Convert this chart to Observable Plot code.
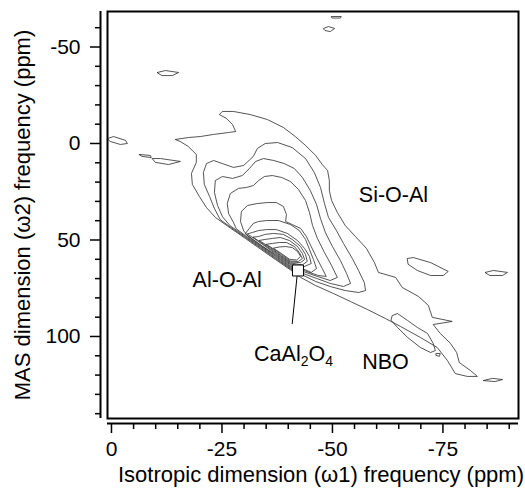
<!DOCTYPE html>
<html>
<head>
<meta charset="utf-8">
<script src="https://cdn.jsdelivr.net/npm/d3@7"></script>
<script src="https://cdn.jsdelivr.net/npm/@observablehq/plot@0.6"></script>
<style>
  html, body { margin: 0; padding: 0; background: #fff; }
  svg { display: block; }
</style>
</head>
<body>
<div id="chart"></div>
<script>
// ---------- axes ----------
const xDomain = [0.9, -92.1];
const yDomain = [142.5, -68.4];
const xMajorTicks = [0, -25, -50, -75];
const xMinorTicks = [-5, -10, -15, -20, -30, -35, -40, -45, -55, -60, -65, -70, -80, -85, -90];
const yMajorTicks = [-50, 0, 50, 100];
const yMinorTicks = [-60, -40, -30, -20, -10, 10, 20, 30, 40, 60, 70, 80, 90, 110, 120, 130, 140];
const xTitle = "Isotropic dimension (\u03c91) frequency (ppm)";
const yTitle = "MAS dimension (\u03c92) frequency (ppm)";

// ---------- contour lines [isotropic ppm, MAS ppm] ----------
const contour1 = [[-14.5,-2.1],[-17.4,-3.1],[-20.1,-3.6],[-23.1,-4.7],[-26.5,-5.7],[-28.1,-6.2],[-27.4,-9.8],[-26.0,-13.0],[-24.4,-15.0],[-25.1,-16.6],[-27.6,-16.6],[-31.4,-15.0],[-35.3,-12.4],[-38.9,-8.3],[-41.6,-3.6],[-43.9,1.0],[-46.2,6.2],[-47.7,10.9],[-48.9,14.0],[-49.3,19.2],[-49.3,24.4],[-49.8,29.5],[-51.1,35.7],[-52.9,42.5],[-55.2,48.2],[-57.7,54.4],[-59.5,61.7],[-60.4,66.8],[-64.3,69.4],[-65.8,74.6],[-69.5,79.3],[-71.7,83.9],[-72.6,90.1],[-77.1,92.2],[-72.8,93.8],[-74.4,98.4],[-76.7,103.6],[-78.1,108.3],[-78.7,113.5],[-81.2,117.6],[-82.8,120.7],[-80.5,120.7],[-77.8,119.2],[-76.0,112.4],[-73.7,105.7],[-69.9,100.5],[-65.4,94.8],[-62.0,90.7],[-57.9,86.0],[-54.1,81.9],[-50.2,77.7],[-46.2,73.6],[-42.8,69.4],[-40.5,65.5],[-37.1,60.1],[-33.7,54.7],[-30.3,49.2],[-26.9,43.8],[-23.5,38.3],[-21.5,33.2],[-19.9,27.5],[-18.3,21.2],[-18.1,15.5],[-19.2,9.8],[-19.2,5.7],[-17.4,1.6],[-15.6,-1.0]];
const contour2 = [[-23.3,33.7],[-22.2,27.5],[-21.0,21.2],[-20.8,15.0],[-21.5,10.4],[-23.1,8.8],[-25.1,10.4],[-27.6,12.4],[-29.9,11.4],[-32.1,6.7],[-33.0,2.6],[-34.8,0.0],[-37.6,-0.5],[-40.9,2.1],[-43.9,7.8],[-45.9,15.0],[-47.3,22.8],[-48.2,31.1],[-49.1,38.3],[-50.9,45.1],[-52.5,51.8],[-54.5,59.6],[-55.9,65.8],[-57.2,72.0],[-57.5,76.2],[-55.9,77.2],[-52.9,76.2],[-49.5,74.1],[-46.2,71.5],[-43.2,68.1],[-40.5,65.0],[-37.1,59.6],[-33.7,54.1],[-30.3,48.7],[-26.9,43.3],[-24.7,39.6]];
const contour3 = [[-25.1,37.8],[-24.0,32.1],[-23.3,25.4],[-23.5,19.2],[-25.1,17.1],[-27.4,18.1],[-29.6,16.6],[-31.2,13.0],[-32.6,9.3],[-34.4,7.8],[-36.7,8.8],[-39.1,10.4],[-41.4,13.0],[-43.2,17.6],[-45.0,24.4],[-46.4,31.6],[-47.3,38.9],[-48.4,46.1],[-50.0,53.4],[-51.8,60.6],[-53.2,67.4],[-54.1,72.5],[-52.5,74.1],[-49.5,72.5],[-46.4,69.9],[-43.4,67.4],[-40.5,64.5],[-37.1,59.1],[-33.7,53.6],[-30.3,48.2],[-26.9,42.7]];
const contour4 = [[-27.6,40.9],[-26.5,36.3],[-26.2,31.1],[-26.9,25.9],[-28.7,23.3],[-30.5,22.8],[-32.1,21.8],[-33.3,19.2],[-34.6,17.1],[-36.4,16.6],[-38.5,17.6],[-40.5,19.7],[-42.3,23.8],[-43.9,29.5],[-44.8,35.7],[-45.5,42.5],[-46.6,49.2],[-48.2,56.5],[-49.8,63.2],[-51.1,69.4],[-49.5,71.0],[-46.6,68.9],[-43.7,66.6],[-40.5,64.0],[-37.1,58.5],[-33.7,53.1],[-30.3,47.7],[-28.3,44.3]];
const contour5 = [[-29.9,45.1],[-29.2,40.4],[-29.4,35.2],[-30.8,32.1],[-33.0,31.1],[-35.3,30.6],[-37.3,30.6],[-38.9,32.6],[-39.6,36.8],[-39.4,40.4],[-40.9,42.0],[-42.8,44.0],[-44.1,48.2],[-45.2,53.4],[-46.4,59.1],[-47.7,64.8],[-48.6,68.9],[-46.8,68.4],[-43.9,66.1],[-40.5,63.5],[-37.1,58.0],[-33.7,52.6],[-31.0,48.2]];
const contour6 = [[-30.3,46.6],[-31.2,44.0],[-32.1,41.4],[-33.3,40.4],[-35.3,39.9],[-37.8,39.9],[-40.5,42.0],[-42.5,45.1],[-43.9,49.7],[-44.8,54.9],[-45.7,60.1],[-46.4,64.8],[-45.2,66.8],[-43.2,64.8],[-40.5,62.9],[-37.1,57.5],[-34.2,53.3],[-31.9,49.5]];
const contour7 = [[-30.8,46.8],[-31.9,46.1],[-33.3,45.1],[-35.1,44.6],[-37.3,44.6],[-39.8,46.6],[-42.1,50.3],[-43.7,54.4],[-44.8,58.5],[-45.2,62.2],[-43.4,64.0],[-40.5,62.4],[-37.1,57.0],[-34.2,52.3],[-32.4,49.4]];
const contour8 = [[-32.1,48.5],[-33.3,48.2],[-34.8,47.1],[-36.7,46.6],[-38.9,47.1],[-40.9,49.7],[-42.8,53.4],[-43.9,57.5],[-44.3,61.1],[-43.2,62.9],[-40.5,61.9],[-37.6,57.2],[-34.8,52.8]];
const contour9 = [[-33.5,50.2],[-34.8,49.7],[-36.4,49.2],[-38.2,48.7],[-40.3,50.3],[-42.1,53.4],[-43.2,57.0],[-43.7,60.1],[-42.8,61.7],[-40.5,61.4],[-38.2,57.8],[-36.0,54.1]];
const contour10 = [[-35.1,52.2],[-36.4,51.8],[-38.0,51.3],[-39.6,51.3],[-41.4,53.4],[-42.5,56.5],[-43.2,59.6],[-42.3,61.1],[-40.5,60.9],[-38.5,57.6],[-36.7,54.7]];
const contour11 = [[-36.7,54.2],[-38.0,53.6],[-39.4,53.4],[-40.9,53.9],[-42.1,56.0],[-42.8,58.5],[-41.9,60.4],[-40.3,60.0],[-38.5,57.1]];

// isolated islands
const islandLeft = [[0.9,-2.6],[-0.5,-3.6],[-3.2,-1.6],[-3.6,0.0],[-2.0,0.5],[0.2,-1.0]];
const islandSmall = [[-6.3,5.7],[-8.8,6.2],[-9.0,7.3],[-7.0,6.7]];
const islandLong = [[-9.3,7.8],[-11.1,7.8],[-15.6,9.3],[-12.9,10.9],[-10.0,9.8]];
const islandUpper = [[-10.4,-36.8],[-12.2,-37.8],[-15.2,-36.8],[-13.8,-35.2],[-11.5,-35.2]];
const islandTop1 = [[-49.8,-65.8],[-52.0,-65.8],[-51.8,-65.0],[-50.0,-65.0]];
const islandTop2 = [[-48.0,-59.6],[-49.1,-60.6],[-50.5,-59.6],[-49.5,-58.0],[-48.4,-58.5]];
const islandRight = [[-67.0,59.6],[-68.3,59.1],[-72.2,61.7],[-76.2,66.3],[-75.1,68.4],[-72.2,68.4],[-69.2,65.8],[-67.2,62.7]];
const islandFarRight = [[-84.6,66.8],[-86.4,65.8],[-89.6,66.8],[-88.5,68.4],[-85.7,68.4]];
const islandNBO = [[-63.6,89.1],[-64.7,88.1],[-67.0,91.7],[-69.2,95.3],[-71.5,98.4],[-72.8,103.6],[-73.3,107.3],[-72.2,108.3],[-69.9,105.7],[-67.0,100.5],[-64.7,95.3],[-63.3,91.7]];
const islandTiny = [[-73.5,108.8],[-74.4,108.8],[-74.2,110.3],[-73.5,109.8]];
const islandBottom = [[-84.2,122.8],[-86.2,121.7],[-88.5,122.3],[-86.9,123.3]];

// annotations
const labelText = ["Si-O-Al", "Al-O-Al", "CaAl2O4", "NBO"];
const labelX = [-63.8, -26.2, -41.2, -62.0];
const labelY = [26.9, 71.0, 109.0, 113.5];
const markerX = [-42.2];
const markerY = [65.8];
const leaderX = [-42.0, -40.9];
const leaderY = [68.6, 93.3];

// ---------- build tables ----------
const allLoops = [contour1, contour2, contour3, contour4, contour5, contour6, contour7, contour8, contour9, contour10, contour11,
  islandLeft, islandSmall, islandLong, islandUpper, islandTop1, islandTop2, islandRight, islandFarRight, islandNBO, islandTiny, islandBottom];
const loopRows = allLoops.flatMap((pts, i) => pts.map(([x, y]) => ({id: i, x, y})));
const labels = labelText.map((t, i) => ({t, x: labelX[i], y: labelY[i]}));
const marker = markerX.map((x, i) => ({x, y: markerY[i]}));
const leader = leaderX.map((x, i) => ({x, y: leaderY[i]}));

const FONT = "'Liberation Sans', Arial, Helvetica, sans-serif";

const chart = Plot.plot({
  width: 525,
  height: 493,
  marginLeft: 107,
  marginRight: 7,
  marginTop: 11,
  marginBottom: 75,
  x: {domain: xDomain, axis: null, label: null},
  y: {domain: yDomain, axis: null, label: null},
  style: {fontFamily: FONT, background: "#fff", color: "#000"},
  marks: [
    Plot.line(loopRows, {x: "x", y: "y", z: "id", curve: "linear-closed", stroke: "#2a2a2a", strokeWidth: 0.8, strokeLinejoin: "round"}),
    Plot.line(leader, {x: "x", y: "y", stroke: "#000", strokeWidth: 1}),
    Plot.dot(marker, {x: "x", y: "y", symbol: "square", r: 6.2, fill: "#fff", stroke: "#000", strokeWidth: 1}),
    Plot.text(labels, {x: "x", y: "y", text: "t", fontSize: 21.5, fill: "#000", textAnchor: "middle", lineAnchor: "middle"}),
    Plot.frame({stroke: "#000", strokeWidth: 2}),
    // y axis (offset to the left of the frame)
    Plot.ruleX([xDomain[0]], {dx: -7, stroke: "#000", strokeWidth: 2}),
    Plot.axisY({ticks: yMajorTicks, tickSize: 10, tickPadding: 10, dx: -7, fontSize: 21, tickFormat: d => String(d), label: null, strokeWidth: 1.5, fill: "#000"}),
    Plot.axisY({ticks: yMinorTicks, tickSize: 5, dx: -7, tickFormat: () => "", label: null, strokeWidth: 1.5}),
    // x axis (offset below the frame)
    Plot.ruleY([yDomain[0]], {dy: 5, stroke: "#000", strokeWidth: 2}),
    Plot.axisX({ticks: xMajorTicks, tickSize: 10, tickPadding: 8, dy: 5, fontSize: 21, tickFormat: d => String(d), label: null, strokeWidth: 1.5, fill: "#000"}),
    Plot.axisX({ticks: xMinorTicks, tickSize: 6, dy: 5, tickFormat: () => "", label: null, strokeWidth: 1.5}),
    // titles
    Plot.text([xTitle], {frameAnchor: "bottom", text: d => d, dx: 8, dy: 56, fontSize: 22, textAnchor: "middle", lineAnchor: "middle", fill: "#000"}),
    Plot.text([yTitle], {frameAnchor: "left", text: d => d, rotate: -90, dx: -85, fontSize: 22, textAnchor: "middle", lineAnchor: "middle", fill: "#000"})
  ]
});

document.getElementById("chart").append(chart);

// subscripts for CaAl2O4
chart.querySelectorAll("text").forEach(t => {
  if (t.textContent === "CaAl2O4") {
    t.textContent = "";
    const ns = "http://www.w3.org/2000/svg";
    const parts = [["CaAl", 0, null], ["2", 5, 14], ["O", -5, null], ["4", 5, 14]];
    parts.forEach(([s, dy, fs]) => {
      const sp = document.createElementNS(ns, "tspan");
      sp.textContent = s;
      sp.setAttribute("dy", dy);
      if (fs) sp.setAttribute("font-size", fs);
      t.appendChild(sp);
    });
  }
});
</script>
</body>
</html>
